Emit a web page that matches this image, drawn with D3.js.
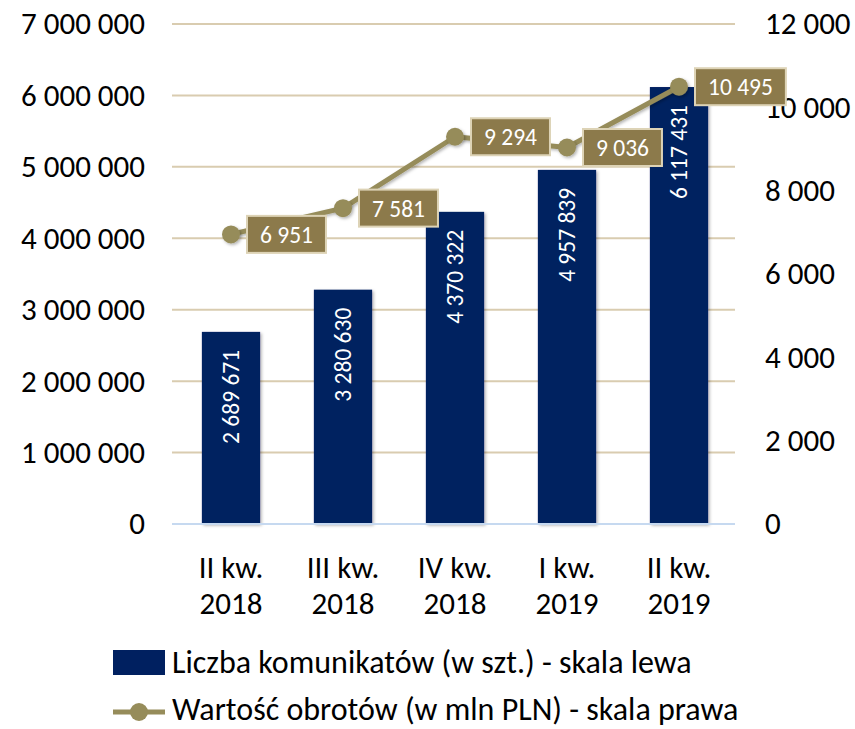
<!DOCTYPE html>
<html>
<head>
<meta charset="utf-8">
<script src="https://cdn.jsdelivr.net/npm/d3@7"></script>
<style>
  html, body { margin: 0; padding: 0; background: #fff; }
  svg { display: block; }
  text { font-family: Carlito, Calibri, Lato, "Open Sans", sans-serif; }
</style>
</head>
<body>
<svg id="chart" width="855" height="729"></svg>
<script>
// ---- data ----
const categories = [["II kw.", "2018"], ["III kw.", "2018"], ["IV kw.", "2018"], ["I kw.", "2019"], ["II kw.", "2019"]];
const messages = [2689671, 3280630, 4370322, 4957839, 6117431];   // left axis (bars)
const turnover = [6951, 7581, 9294, 9036, 10495];                 // right axis (line)
const leftTicks = [0, 1000000, 2000000, 3000000, 4000000, 5000000, 6000000, 7000000];
const rightTicks = [0, 2000, 4000, 6000, 8000, 10000, 12000];
const legendLabels = ["Liczba komunikatów (w szt.) - skala lewa", "Wartość obrotów (w mln PLN) - skala prawa"];

// ---- style ----
const barColor = "#002060";
const lineColor = "#968c5a";
const labelFill = "#8c7a4b";
const labelStroke = "#ddd3b6";
const gridColor = "#d9ccb0";
const baseColor = "#c6d9f0";
const fs = 31;

const loc = d3.formatLocale({ decimal: ",", thousands: " ", grouping: [3], currency: ["", ""] });
const fmt = loc.format(",d");

const svg = d3.select("#chart");
const x = d3.scaleBand().domain(d3.range(categories.length)).range([175, 735]).paddingInner(0.48).paddingOuter(0.24);
const yL = d3.scaleLinear().domain([0, 7000000]).range([524, 24]);
const yR = d3.scaleLinear().domain([0, 12000]).range([524, 24]);

const defs = svg.append("defs");
const sh = defs.append("filter").attr("id", "shadow").attr("x", "-30%").attr("y", "-30%").attr("width", "160%").attr("height", "160%");
sh.append("feDropShadow").attr("dx", 1.5).attr("dy", 1.5).attr("stdDeviation", 1.5).attr("flood-color", "#000").attr("flood-opacity", 0.3);

// gridlines
svg.append("g").selectAll("line").data(leftTicks.filter(d => d > 0)).join("line")
  .attr("x1", 172).attr("x2", 735)
  .attr("y1", d => yL(d)).attr("y2", d => yL(d))
  .attr("stroke", gridColor).attr("stroke-width", 2);

// left axis
const axL = svg.append("g").attr("transform", "translate(145,0)")
  .call(d3.axisLeft(yL).tickValues(leftTicks).tickFormat(fmt).tickSize(0).tickPadding(0));
axL.select(".domain").remove();
axL.selectAll("text").attr("font-size", fs).attr("fill", "#000").attr("font-family", null);

// right axis
const axR = svg.append("g").attr("transform", "translate(765,0)")
  .call(d3.axisRight(yR).tickValues(rightTicks).tickFormat(fmt).tickSize(0).tickPadding(0));
axR.select(".domain").remove();
axR.selectAll("text").attr("font-size", fs).attr("fill", "#000").attr("font-family", null);

// bars
svg.append("g").selectAll("rect").data(messages).join("rect")
  .attr("x", (d, i) => x(i)).attr("width", x.bandwidth())
  .attr("y", d => yL(d)).attr("height", d => yL(0) - yL(d))
  .attr("fill", barColor).attr("filter", "url(#shadow)");

// baseline
svg.append("line").attr("x1", 172).attr("x2", 735).attr("y1", yL(0)).attr("y2", yL(0))
  .attr("stroke", baseColor).attr("stroke-width", 2);

// bar labels (rotated)
svg.append("g").selectAll("text").data(messages).join("text")
  .attr("transform", (d, i) => `translate(${x(i) + x.bandwidth() / 2},${yL(d) + 18}) rotate(-90)`)
  .attr("text-anchor", "end").attr("dy", "0.36em")
  .attr("fill", "#fff").attr("font-size", 23.5)
  .text(d => fmt(d));

// category labels
const cat = svg.append("g").selectAll("text").data(categories).join("text")
  .attr("text-anchor", "middle").attr("font-size", fs).attr("fill", "#000");
cat.append("tspan").attr("x", (d, i) => x(i) + x.bandwidth() / 2).attr("y", 578).text(d => d[0]);
cat.append("tspan").attr("x", (d, i) => x(i) + x.bandwidth() / 2).attr("y", 614).text(d => d[1]);

// line
const cx = i => x(i) + x.bandwidth() / 2;
svg.append("path").datum(turnover)
  .attr("d", d3.line().x((d, i) => cx(i)).y(d => yR(d)))
  .attr("fill", "none").attr("stroke", lineColor).attr("stroke-width", 5).attr("stroke-linejoin", "round")
  .attr("filter", "url(#shadow)");
svg.append("g").selectAll("circle").data(turnover).join("circle")
  .attr("cx", (d, i) => cx(i)).attr("cy", d => yR(d)).attr("r", 9)
  .attr("fill", lineColor).attr("filter", "url(#shadow)");

// data labels for line
const lab = svg.append("g").selectAll("g").data(turnover).join("g")
  .attr("transform", (d, i) => `translate(${cx(i) + 16},${yR(d)})`);
const labText = lab.append("text").attr("x", 13).attr("dy", "0.36em")
  .attr("fill", "#fff").attr("font-size", 23.5).text(d => fmt(d));
labText.each(function () {
  const w = this.getComputedTextLength();
  d3.select(this.parentNode).insert("rect", "text")
    .attr("x", 0).attr("y", -18.5).attr("width", w + 26).attr("height", 37)
    .attr("fill", labelFill).attr("stroke", labelStroke).attr("stroke-width", 2);
});

// legend
const lg = svg.append("g");
lg.append("rect").attr("x", 113).attr("y", 650).attr("width", 52).attr("height", 25).attr("fill", barColor);
lg.append("line").attr("x1", 113).attr("x2", 165).attr("y1", 712).attr("y2", 712)
  .attr("stroke", lineColor).attr("stroke-width", 5);
lg.append("circle").attr("cx", 139).attr("cy", 712).attr("r", 9).attr("fill", lineColor);
lg.selectAll("text.lg").data(legendLabels).join("text").attr("class", "lg")
  .attr("x", 172).attr("y", (d, i) => [662, 709][i]).attr("dy", "0.35em")
  .attr("font-size", 32).attr("fill", "#000").text(d => d);
</script>
</body>
</html>
